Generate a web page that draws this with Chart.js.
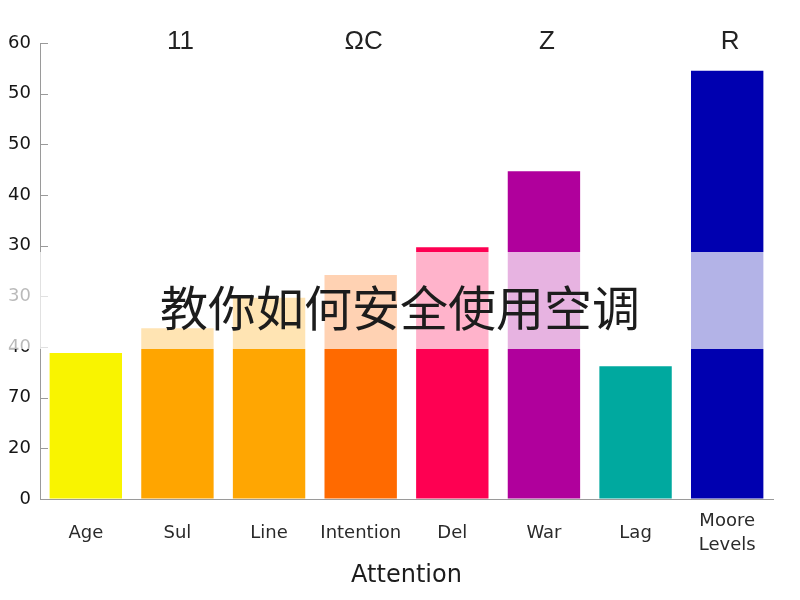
<!DOCTYPE html>
<html>
<head>
<meta charset="utf-8">
<script src="https://cdn.jsdelivr.net/npm/chart.js@4/dist/chart.umd.min.js"></script>
<style>
  html, body { margin: 0; padding: 0; background: #fff; }
  #wrap { width: 800px; height: 600px; }
</style>
</head>
<body>
<div id="wrap"><canvas id="chart" width="800" height="600"></canvas></div>
<script>
// chart data
const categories = ['Age', 'Sul', 'Line', 'Intention', 'Del', 'War', 'Lag', ['Moore', 'Levels']];
const values = [28.8, 33.7, 39.7, 44.2, 49.7, 64.7, 26.2, 84.5];
const barColors = ['#f9f400', '#ffa500', '#ffa602', '#ff6a00', '#fe0052', '#b0009c', '#00a99f', '#0000b0'];
const yTickLabels = ['0', '20', '70', '40', '30', '30', '40', '50', '50', '60'];
const topLabels = ['', '11', '', 'ΩC', '', 'Z', '', 'R'];
const overlayTitle = '教你如何安全使用空调';
const axisTitle = 'Attention';

// draws inner ticks, the washed-out band, the caption and the top letters
const overlayPlugin = {
    id: 'overlay',
    afterDraw(chart) {
        const ctx = chart.ctx;
        const y = chart.scales.y;
        const x = chart.scales.x;

        // short tick marks inside the y axis
        ctx.save();
        ctx.strokeStyle = '#9a9a9a';
        ctx.lineWidth = 1;
        y.ticks.forEach(t => {
            const py = Math.round(y.getPixelForValue(t.value)) + 0.5;
            ctx.beginPath();
            ctx.moveTo(y.right, py);
            ctx.lineTo(y.right + 8, py);
            ctx.stroke();
        });

        // white band across the middle
        ctx.fillStyle = 'rgba(255, 255, 255, 0.7)';
        ctx.fillRect(0, 252, 800, 97);

        // caption
        ctx.fillStyle = '#1c1c1c';
        ctx.font = '48px "Noto Sans CJK SC"';
        ctx.textAlign = 'center';
        ctx.textBaseline = 'middle';
        ctx.fillText(overlayTitle, 400, 308);

        // letters above some columns
        ctx.font = '26px "Liberation Sans"';
        ctx.fillStyle = '#222';
        topLabels.forEach((lbl, i) => {
            if (!lbl) return;
            ctx.fillText(lbl, x.getPixelForValue(i) + 3, 42);
        });
        ctx.restore();
    }
};

const ctx = document.getElementById('chart').getContext('2d');

new Chart(ctx, {
    type: 'bar',
    data: {
        labels: categories,
        datasets: [{
            data: values,
            backgroundColor: barColors,
            borderWidth: 0,
            barPercentage: 0.79,
            categoryPercentage: 1
        }]
    },
    options: {
        responsive: false,
        animation: false,
        layout: {
            padding: { top: 43, right: 27, left: 0, bottom: 0 }
        },
        plugins: {
            legend: { display: false },
            tooltip: { enabled: false }
        },
        scales: {
            x: {
                grid: { display: false },
                border: { color: '#9a9a9a' },
                ticks: {
                    color: '#2a2a2a',
                    font: { family: 'DejaVu Sans', size: 18, lineHeight: 1.33 },
                    maxRotation: 0,
                    autoSkip: false,
                    crossAlign: 'center',
                    padding: 14
                },
                title: {
                    display: true,
                    text: axisTitle,
                    color: '#1c1c1c',
                    font: { family: 'DejaVu Sans', size: 24 },
                    padding: { top: 8, bottom: 10 }
                },
                afterFit: s => { s.height = 101; }
            },
            y: {
                min: 0,
                max: 90,
                grid: { drawOnChartArea: false, drawTicks: false },
                border: { color: '#9a9a9a' },
                ticks: {
                    stepSize: 10,
                    color: '#151515',
                    padding: 9,
                    font: { family: 'DejaVu Sans', size: 18 },
                    callback: (v, i) => yTickLabels[i]
                },
                afterFit: s => { s.width = 40; }
            }
        }
    },
    plugins: [overlayPlugin]
});
</script>
</body>
</html>
